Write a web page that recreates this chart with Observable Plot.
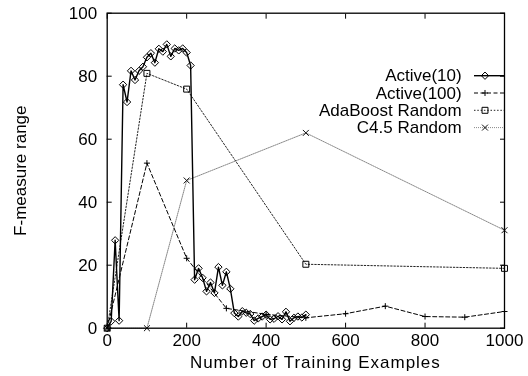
<!DOCTYPE html>
<html><head><meta charset="utf-8">
<script src="https://cdn.jsdelivr.net/npm/d3@7"></script>
<script src="https://cdn.jsdelivr.net/npm/@observablehq/plot@0.6"></script>
<style>body{margin:0;background:#fff} #chart svg{filter:grayscale(1)}</style>
</head><body><div id="chart"></div>
<script>
const xTicks = [0, 200, 400, 600, 800, 1000];
const yTicks = [0, 20, 40, 60, 80, 100];
const xLabel = "Number of Training Examples";
const yLabel = "F-measure range";
const seriesNames = ["Active(10)", "Active(100)", "AdaBoost Random", "C4.5 Random"];

const active10X = [0,10,20,30,40,50,60,70,80,90,100,110,120,130,140,150,160,170,180,190,200,
  210,220,230,240,250,260,270,280,290,300,310,320,330,340,350,360,370,380,390,400,
  410,420,430,440,450,460,470,480,490,500];
const active10Y = [0,2.2,27.9,2.4,77.3,71.8,81.7,78.8,81.7,83.0,86.0,87.3,84.3,88.7,87.8,90.1,86.3,88.8,88.2,88.8,87.5,
  83.4,15.4,19.0,16.0,11.7,14.5,11.2,19.4,13.6,17.9,12.5,4.8,3.7,5.4,4.9,4.5,2.4,3.1,3.7,4.3,
  2.8,3.0,3.8,2.8,5.2,2.2,3.3,3.7,3.4,4.3];

const active100X = [0,100,200,300,400,500,600,700,800,900,1000];
const active100Y = [0,52.4,22.2,6.3,4.4,3.3,4.6,7.0,3.7,3.5,5.3];

const adaX = [0,100,200,500,1000];
const adaY = [0,80.9,75.9,20.3,19.0];

const c45X = [0,100,200,500,1000];
const c45Y = [0,0,46.9,62.0,31.1];

const seriesX = [active10X, active100X, adaX, c45X];
const seriesY = [active10Y, active100Y, adaY, c45Y];

const styles = {
  "Active(10)":      {stroke: "#000", dash: null,      width: 1.4, symbol: "diamond2", r: 3.3,  dotStroke: "#000"},
  "Active(100)":     {stroke: "#000", dash: "4,2.5",   width: 1,   symbol: "plus",     r: 2.1,  dotStroke: "#000"},
  "AdaBoost Random": {stroke: "#222", dash: "1.5,1.8", width: 1,   symbol: "square2",  r: 3.8,  dotStroke: "#000"},
  "C4.5 Random":     {stroke: "#888", dash: "1,1",     width: 1,   symbol: "times",    r: 2.8,  dotStroke: "#111"}
};

const rows = [];
seriesNames.forEach((name, i) => {
  seriesX[i].forEach((x, j) => rows.push({series: name, x, y: seriesY[i][j]}));
});

const FONT = "'Liberation Sans', Arial, Helvetica, sans-serif";
const FS = 17;

const marks = [];
for (const name of seriesNames.slice().reverse()) {
  const s = styles[name];
  const data = rows.filter(d => d.series === name);
  marks.push(Plot.line(data, {x: "x", y: "y", stroke: s.stroke, strokeWidth: s.width, strokeDasharray: s.dash}));
}
for (const name of seriesNames.slice().reverse()) {
  const s = styles[name];
  const data = rows.filter(d => d.series === name);
  marks.push(Plot.dot(data, {x: "x", y: "y", symbol: () => s.symbol, r: s.r, stroke: s.dotStroke, fill: "none", strokeWidth: 1}));
}

const chart = Plot.plot({
  width: 528,
  height: 376,
  marginLeft: 106.7,
  marginRight: 24,
  marginTop: 12.7,
  marginBottom: 48.3,
  style: {fontFamily: FONT, fontSize: FS + "px", color: "black", background: "#fff"},
  x: {domain: [0, 1000]},
  y: {domain: [0, 100]},
  symbol: {type: "identity"},
  marks: [
    Plot.axisX(xTicks, {anchor: "bottom", tickSize: 0, tickPadding: 6, label: null, fontSize: FS, fill: "black", tickFormat: d => String(d)}),
    Plot.axisY(yTicks, {anchor: "left", tickSize: 0, tickPadding: 10, label: null, fontSize: FS, fill: "black", tickFormat: d => String(d)}),
    Plot.axisX(xTicks, {anchor: "bottom", tickSize: -5, tickFormat: () => "", label: null}),
    Plot.axisX(xTicks, {anchor: "top", tickSize: -5, tickFormat: () => "", label: null}),
    Plot.axisY(yTicks, {anchor: "left", tickSize: -5, tickFormat: () => "", label: null}),
    Plot.axisY(yTicks, {anchor: "right", tickSize: -5, tickFormat: () => "", label: null}),
    ...marks,
    Plot.frame({stroke: "black", strokeWidth: 1.3}),
    Plot.text([xLabel], {frameAnchor: "bottom", lineAnchor: "middle", textAnchor: "middle", dy: 34.6, dx: 9.5, fontSize: FS, fill: "black", className: "xlabel"}),
    Plot.text([yLabel], {frameAnchor: "left", lineAnchor: "middle", textAnchor: "middle", dx: -86.2, rotate: -90, fontSize: FS, fill: "black"})
  ]
});

const svg = d3.select(chart);
// the reference's x-axis title is set a little wider
svg.selectAll(".xlabel text").style("letter-spacing", "1px");

// Legend (inside plot, top right)
const leg = svg.append("g").attr("font-family", FONT).attr("font-size", FS);
const symbolTypes = {diamond2: d3.symbolDiamond2, plus: d3.symbolPlus, square2: d3.symbolSquare2, times: d3.symbolTimes};
seriesNames.forEach((name, i) => {
  const s = styles[name];
  const y = 75.7 + 17.3 * i;
  leg.append("text").attr("x", 461.7).attr("y", y).attr("dy", "0.34em")
    .attr("text-anchor", "end").attr("fill", "black").text(name);
  leg.append("line").attr("x1", 474).attr("x2", 504).attr("y1", y).attr("y2", y)
    .attr("stroke", s.stroke).attr("stroke-width", s.width)
    .attr("stroke-dasharray", s.dash);
  leg.append("path").attr("transform", `translate(485,${y})`)
    .attr("d", d3.symbol(symbolTypes[s.symbol], Math.PI * s.r * s.r)())
    .attr("fill", "none").attr("stroke", s.dotStroke).attr("stroke-width", 1);
});

document.getElementById("chart").appendChild(chart);
</script>
</body></html>
